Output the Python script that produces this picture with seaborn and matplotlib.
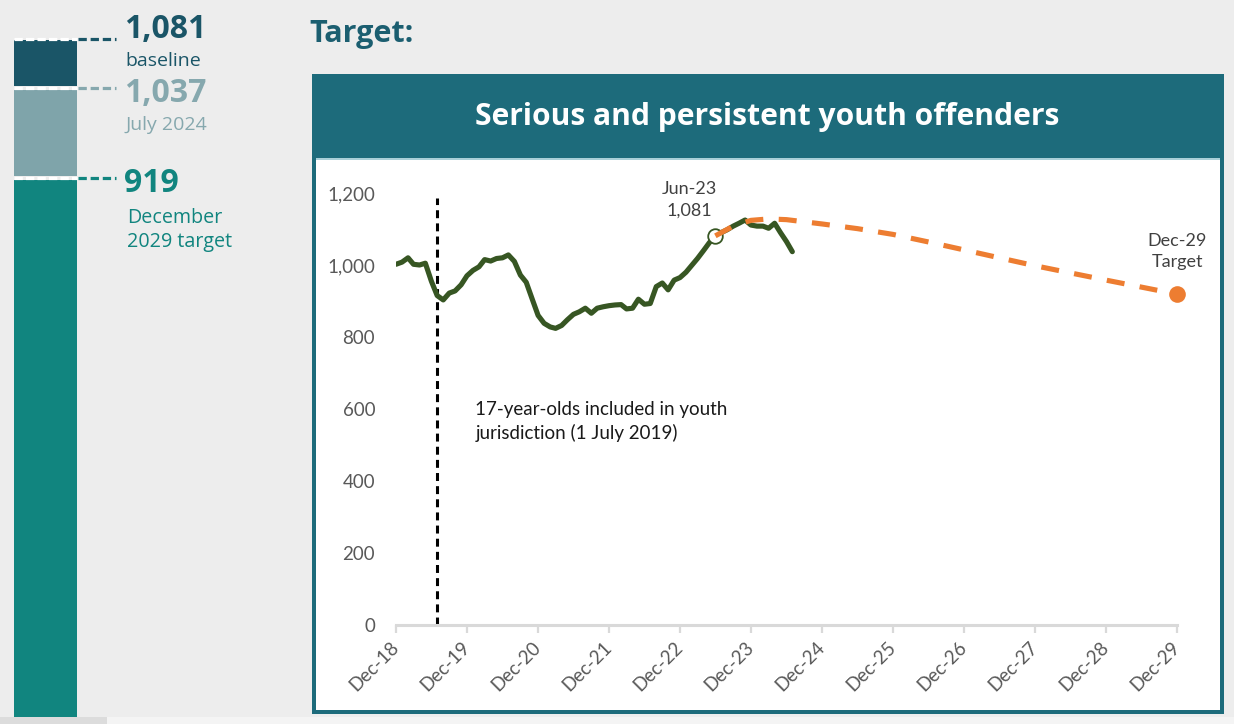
import numpy as np
import pandas as pd
import matplotlib
matplotlib.use("Agg")
import matplotlib.pyplot as plt
from matplotlib.patches import Rectangle
from matplotlib.ticker import FuncFormatter
import seaborn as sns

# ---------------- data ----------------
series_start = "2018-12-01"
offender_counts = [
    1002, 1008, 1020, 1002, 1000, 1005, 955, 915, 903, 922, 928, 945,
    970, 985, 995, 1015, 1011, 1018, 1020, 1028, 1010, 972, 952, 905,
    860, 838, 828, 824, 832, 848, 863, 870, 880, 866, 880, 884,
    887, 889, 890, 878, 880, 905, 891, 893, 940, 950, 931, 958,
    965, 980, 1000, 1018, 1040, 1062, 1081, 1090, 1098, 1108, 1116, 1125,
    1111, 1108, 1108, 1102, 1116, 1090, 1065, 1037,
]
trajectory_dates = [
    "2023-06-01", "2023-09-01", "2023-12-01", "2024-03-01", "2024-06-01",
    "2024-12-01", "2025-06-01", "2025-12-01", "2026-06-01", "2026-12-01",
    "2027-06-01", "2027-12-01", "2028-06-01", "2028-12-01", "2029-12-01",
]
trajectory_values = [1081, 1108, 1124, 1128, 1126, 1114, 1101, 1085, 1064,
                     1042, 1020, 998, 978, 958, 919]
baseline_date, baseline_value = "2023-06-01", 1081
target_date, target_value = "2029-12-01", 919
latest_label, latest_value = "July 2024", 1037
policy_date = "2019-07-01"
policy_text = "17-year-olds included in youth\njurisdiction (1 July 2019)"
tick_dates = pd.date_range("2018-12-01", "2029-12-01", freq="12MS")
y_ticks = [0, 200, 400, 600, 800, 1000, 1200]
chart_title = "Serious and persistent youth offenders"

green_df = pd.DataFrame({
    "date": pd.date_range(series_start, periods=len(offender_counts), freq="MS"),
    "count": offender_counts,
})
traj_df = pd.DataFrame({"date": pd.to_datetime(trajectory_dates),
                        "count": trajectory_values})

# ---------------- style ----------------
sns.set_theme(style="white")
plt.rcParams["font.family"] = ["Lato", "DejaVu Sans"]
HEAD_FONT = ["Open Sans", "DejaVu Sans"]

BG = "#EDEDED"
DARK = "#1A5567"
MID = "#86A8AE"
TEAL = "#11857F"
FRAME = "#1D6B7B"
GREEN = "#375623"
ORANGE = "#ED7D31"
GREY_TXT = "#595959"

W, H = 1234, 724
fig = plt.figure(figsize=(W / 100, H / 100), dpi=100, facecolor=BG)

# decorative layer in pixel coordinates
deco = fig.add_axes([0, 0, 1, 1])
deco.set_xlim(0, W)
deco.set_ylim(H, 0)
deco.axis("off")


def rect(x0, y0, x1, y1, color, z=1):
    deco.add_patch(Rectangle((x0, y0), x1 - x0, y1 - y0, facecolor=color,
                             edgecolor="none", zorder=z))


# bottom strip
rect(0, 717, W, H, "#F4F4F4")
rect(0, 717, 107, H, "#DCDCDC")

# left gauge bar
rect(14, 40, 77, 86, DARK)
rect(14, 90, 77, 176, "#7FA4AA")
rect(14, 180, 77, 717, TEAL)
for yy, col in [(39, DARK), (88, MID), (178, TEAL)]:
    deco.plot([14, 77], [yy, yy], color="white", lw=2.3, dashes=(2.6, 1.0),
              solid_capstyle="butt", zorder=3)
    deco.plot([78, 116], [yy, yy], color=col, lw=2.3, dashes=(2.6, 1.2),
              zorder=3)

deco.text(124, 29, f"{baseline_value:,}", color=DARK, fontsize=23,
          fontweight="bold", family=HEAD_FONT, va="center", ha="left")
deco.text(125, 61, "baseline", color=DARK, fontsize=14, family=HEAD_FONT,
          va="center", ha="left")
deco.text(124, 94, f"{latest_value:,}", color=MID, fontsize=23,
          fontweight="bold", family=HEAD_FONT, va="center", ha="left")
deco.text(125, 125, latest_label, color=MID, fontsize=14, family=HEAD_FONT,
          va="center", ha="left")
deco.text(124, 183, f"{target_value:,}", color=TEAL, fontsize=23,
          fontweight="bold", family=HEAD_FONT, va="center", ha="left")
deco.text(127, 230, "December\n2029 target", color=TEAL, fontsize=14.2,
          family=HEAD_FONT, va="center", ha="left", linespacing=1.25)

deco.text(309, 34, "Target:", color="#1B5E70", fontsize=22, fontweight="bold",
          family=HEAD_FONT, va="center", ha="left")

# chart frame
rect(312, 74, 1224, 714, FRAME)
rect(316, 158, 1220, 710, "#A9CFD8")
rect(316, 160, 1220, 710, "white")
deco.text(767, 117, chart_title, color="white", fontsize=21.6,
          fontweight="bold", family=HEAD_FONT, va="center", ha="center")

# ---------------- main chart ----------------
x0, x1 = 396 / W, 1177 / W
y0, y1 = (H - 625) / H, (H - 193) / H
ax = fig.add_axes([x0, y0, x1 - x0, y1 - y0])
ax.set_facecolor("none")

ax.vlines(pd.Timestamp(policy_date), 0, 1186, color="black", lw=2.2,
          linestyles=(0, (2.6, 1.7)), zorder=2)

sns.lineplot(data=green_df, x="date", y="count", ax=ax, color=GREEN, lw=3.7,
             zorder=3, solid_joinstyle="round", solid_capstyle="round")
ax.plot(pd.Timestamp(baseline_date), baseline_value, "o", ms=10.5,
        mfc="white", mec=GREEN, mew=1.3, zorder=4)
sns.lineplot(data=traj_df, x="date", y="count", ax=ax, color=ORANGE, lw=3.7,
             zorder=5)
ax.lines[-1].set_dashes((3.5, 3.0))
ax.plot(pd.Timestamp(target_date), target_value, "o", ms=12, color=ORANGE,
        mec="none", zorder=6, clip_on=False)

ax.annotate(f"{pd.Timestamp(baseline_date):%b-%y}\n{baseline_value:,}",
            (pd.Timestamp(baseline_date), baseline_value),
            xytext=(-19, 26), textcoords="offset points", ha="center",
            va="center", fontsize=13, color="#404040", linespacing=1.4,
            annotation_clip=False)
ax.annotate(f"{pd.Timestamp(target_date):%b-%y}\nTarget",
            (pd.Timestamp(target_date), target_value),
            xytext=(0, 31), textcoords="offset points", ha="center",
            va="center", fontsize=13, color="#404040", linespacing=1.4,
            annotation_clip=False)
ax.text(pd.Timestamp("2020-01-14"), 566, policy_text, fontsize=13.5,
        color="#1a1a1a", ha="left", va="center", linespacing=1.4)

ax.set_xlim(tick_dates[0], tick_dates[-1])
ax.set_ylim(0, 1200)
ax.set_xticks(tick_dates)
ax.set_xticklabels([d.strftime("%b-%y") for d in tick_dates], rotation=45,
                   ha="right", va="center", rotation_mode="anchor",
                   fontsize=13.5, color=GREY_TXT)
ax.set_yticks(y_ticks)
ax.yaxis.set_major_formatter(FuncFormatter(lambda v, p: f"{int(v):,}"))
ax.tick_params(axis="y", length=0, pad=15, labelsize=13.5, labelcolor=GREY_TXT)
ax.tick_params(axis="x", length=6, width=1.6, color="#D9D9D9", pad=8,
               bottom=True)
for s in ["top", "right", "left"]:
    ax.spines[s].set_visible(False)
ax.spines["bottom"].set_color("#D9D9D9")
ax.spines["bottom"].set_linewidth(2.2)
ax.set_xlabel("")
ax.set_ylabel("")
ax.grid(False)

fig.savefig("out.png", dpi=100, facecolor=BG)
